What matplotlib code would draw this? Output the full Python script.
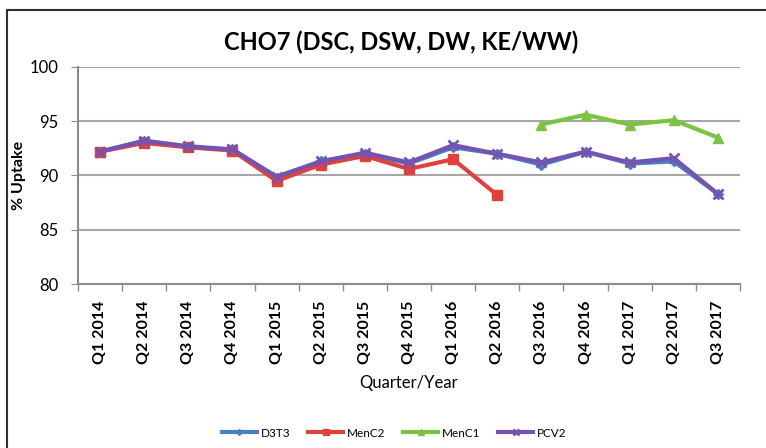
import numpy as np
import matplotlib.pyplot as plt
from matplotlib.patches import Rectangle

quarters = ["Q1 2014", "Q2 2014", "Q3 2014", "Q4 2014", "Q1 2015", "Q2 2015",
            "Q3 2015", "Q4 2015", "Q1 2016", "Q2 2016", "Q3 2016", "Q4 2016",
            "Q1 2017", "Q2 2017", "Q3 2017"]

d3t3 = [92.2, 93.2, 92.6, 92.4, 89.8, 91.3, 92.0, 91.1, 92.6, 92.0, 91.0, 92.2, 91.1, 91.3, 88.3]
menc2 = [92.2, 93.0, 92.6, 92.3, 89.5, 91.0, 91.8, 90.6, 91.5, 88.2, None, None, None, None, None]
menc1 = [None, None, None, None, None, None, None, None, None, None, 94.7, 95.6, 94.7, 95.1, 93.5]
pcv2 = [92.2, 93.2, 92.7, 92.4, 89.9, 91.3, 92.1, 91.2, 92.8, 92.0, 91.2, 92.2, 91.2, 91.6, 88.3]

series = [
    ("D3T3", d3t3, "#4A7EC4", "D", 5),
    ("MenC2", menc2, "#E0413C", "s", 7),
    ("MenC1", menc1, "#7DC242", "^", 7),
    ("PCV2", pcv2, "#7454B0", "x", 7),
]

plt.rcParams["font.family"] = ["Lato", "DejaVu Sans"]

fig = plt.figure(figsize=(7.66, 4.48), dpi=100)
ax = fig.add_axes([78 / 766, 1 - 284 / 448, 662 / 766, 217 / 448])

x = np.arange(len(quarters))
for name, vals, col, mk, ms in series:
    y = np.array([np.nan if v is None else v for v in vals])
    ax.plot(x, y, color=col, lw=3, marker=mk, ms=ms, mew=2 if mk == "x" else 1,
            mec=col, mfc=col, label=name)

ax.set_xlim(-0.5, len(quarters) - 0.5)
ax.set_ylim(80, 100)
ax.set_yticks([80, 85, 90, 95, 100])
ax.yaxis.grid(True, color="#A6A6A6", lw=1.5)
ax.set_axisbelow(True)
for s in ["top", "right"]:
    ax.spines[s].set_visible(False)
for s in ["left", "bottom"]:
    ax.spines[s].set_color("#8C8C8C")
    ax.spines[s].set_linewidth(1.5)

ax.set_xticks(x)
ax.set_xticklabels(quarters, rotation=90, fontsize=11.5, fontweight="bold")
ax.set_xticks(np.arange(-0.5, len(quarters)), minor=True)
ax.tick_params(axis="x", which="major", length=0, pad=12)
ax.tick_params(axis="x", which="minor", length=5, color="#8C8C8C", width=1)
ax.tick_params(axis="y", length=5, color="#8C8C8C", labelsize=12, pad=9)

ax.set_xlabel("Quarter/Year", fontsize=12, labelpad=8)
ax.set_ylabel("% Uptake", fontsize=11.5, fontweight="bold", labelpad=3)

fig.text(401 / 766, 1 - 42 / 448, "CHO7 (DSC, DSW, DW, KE/WW)", ha="center", va="center",
         fontsize=17, fontweight="bold")

ax.legend(loc="center", bbox_to_anchor=(394 / 766, 1 - 433 / 448), bbox_transform=fig.transFigure,
          ncol=4, frameon=False, fontsize=8.5, handlelength=3, markerscale=0.6,
          columnspacing=1.5, handletextpad=0.3)

fig.patches.append(Rectangle((7 / 766, -0.1), 1.2, 1 - 10 / 448 + 0.1, transform=fig.transFigure,
                             fill=False, edgecolor="#303030", lw=1.5))

fig.savefig("out.png", dpi=100)
